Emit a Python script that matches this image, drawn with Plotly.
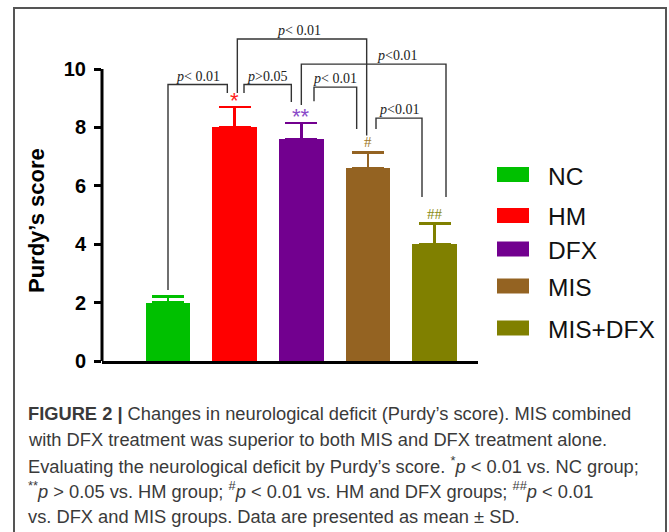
import plotly.graph_objects as go

# ---- data ----
groups = ["NC", "HM", "DFX", "MIS", "MIS+DFX"]
means = [2.0, 8.0, 7.6, 6.6, 4.0]
sds = [0.2, 0.7, 0.55, 0.55, 0.7]
sig_marks = ["", "*", "**", "#", "##"]
bar_colors = ["#00C000", "#FF0000", "#72008F", "#946322", "#808000"]
mark_colors = ["#00C000", "#FF2020", "#8A4AC8", "#A07828", "#8A8A10"]
y_ticks = [0, 2, 4, 6, 8, 10]

# comparison brackets: (x_left, x_right, y_top, y_left_end, y_right_end, label, label_x, label_y)
brackets = [
    (0.0, 0.89, 9.47, 2.43, 9.18, "<i>p</i>< 0.01", 0.45, 9.74),
    (1.14, 1.85, 9.47, 9.18, 8.87, "<i>p</i>>0.05", 1.49, 9.74),
    (1.04, 2.98, 11.03, 9.18, 7.72, "<i>p</i>< 0.01", 1.97, 11.33),
    (2.19, 2.83, 9.38, 8.90, 7.95, "<i>p</i>< 0.01", 2.50, 9.66),
    (2.00, 4.17, 10.17, 8.77, 5.62, "<i>p</i><0.01", 3.44, 10.46),
    (3.12, 3.81, 8.32, 7.95, 5.62, "<i>p</i><0.01", 3.47, 8.62),
]

caption_lines = [
    "<b>FIGURE 2 |</b> Changes in neurological deficit (Purdy\u2019s score). MIS combined",
    "with DFX treatment was superior to both MIS and DFX treatment alone.",
    "Evaluating the neurological deficit by Purdy\u2019s score. <sup>*</sup><i>p</i> < 0.01 vs. NC group;",
    "<sup>**</sup><i>p</i> > 0.05 vs. HM group; <sup>#</sup><i>p</i> < 0.01 vs. HM and DFX groups; <sup>##</sup><i>p</i> < 0.01",
    "vs. DFX and MIS groups. Data are presented as mean \u00b1 SD.",
]

# ---- layout geometry (pixels) ----
W, H = 669, 532
L, R, T, B = 102, 191, 20, 171
PW, PH = W - L - R, H - T - B


def px_x(p):
    return (p - L) / PW


def px_y(p):
    return (H - B - p) / PH


fig = go.Figure()

for i, g in enumerate(groups):
    fig.add_trace(go.Bar(
        x=[i], y=[means[i]], name=g, width=0.667,
        marker=dict(color=bar_colors[i], line=dict(width=0)),
        error_y=dict(type="data", array=[sds[i]], arrayminus=[0], symmetric=False,
                     color=bar_colors[i], thickness=2.6, width=16),
        showlegend=False, hoverinfo="skip",
    ))

shapes = []
annotations = []

# y axis line only up to 10
shapes.append(dict(type="line", xref="paper", yref="y", x0=0, x1=0, y0=0, y1=max(y_ticks),
                   line=dict(color="black", width=3)))

for (xl, xr, yt, yl, yr, lab, lx, ly) in brackets:
    shapes.append(dict(type="path", xref="x", yref="y",
                       path=f"M {xl},{yl} L {xl},{yt} L {xr},{yt} L {xr},{yr}",
                       line=dict(color="#333333", width=1.4)))
    annotations.append(dict(x=lx, y=ly, xref="x", yref="y", text=lab, showarrow=False,
                            font=dict(family="Liberation Serif, Times New Roman, serif", size=14,
                                      color="#222222")))

for i, m in enumerate(sig_marks):
    if not m:
        continue
    serif = m.startswith("#")
    annotations.append(dict(
        x=i, y=means[i] + sds[i], xref="x", yref="y", text=m, showarrow=False,
        yanchor="bottom", yshift=(0 if serif else -8),
        font=dict(family=("Liberation Serif, serif" if serif else "Arial, Liberation Sans, sans-serif"),
                  size=(15 if serif else 22), color=mark_colors[i])))

# manual legend
leg_y = [174.5, 215.5, 249, 286, 328]
for i, g in enumerate(groups):
    cy = leg_y[i]
    shapes.append(dict(type="rect", xref="paper", yref="paper",
                       x0=px_x(497), x1=px_x(529), y0=px_y(cy + 7.5), y1=px_y(cy - 7.5),
                       fillcolor=bar_colors[i], line=dict(width=0)))
    annotations.append(dict(x=px_x(546), y=px_y(cy + 1.5), xref="paper", yref="paper", text=g,
                            showarrow=False, xanchor="left", yanchor="middle",
                            font=dict(family="Arial, Liberation Sans, sans-serif", size=24.5,
                                      color="#111111")))

# y axis title
annotations.append(dict(x=px_x(37), y=px_y(221), xref="paper", yref="paper",
                        text="<b>Purdy\u2019s score</b>", textangle=-90, showarrow=False,
                        xanchor="center", yanchor="middle",
                        font=dict(family="Arial, Liberation Sans, sans-serif", size=22, color="black")))

# outer frame
shapes.append(dict(type="rect", xref="paper", yref="paper",
                   x0=px_x(14), x1=px_x(666), y0=px_y(560), y1=px_y(8),
                   line=dict(color="#555555", width=2), fillcolor="rgba(0,0,0,0)"))

# caption
cap_y = [413, 439, 464.5, 490, 516]
for txt, cy in zip(caption_lines, cap_y):
    annotations.append(dict(x=px_x(26), y=px_y(cy), xref="paper", yref="paper", text=txt,
                            showarrow=False, xanchor="left", yanchor="middle", align="left",
                            font=dict(family="Arial, Liberation Sans, sans-serif", size=18.3,
                                      color="#3a3a3a")))

fig.update_layout(
    width=W, height=H, autosize=False,
    margin=dict(l=L, r=R, t=T, b=B, pad=0),
    paper_bgcolor="white", plot_bgcolor="white",
    barmode="overlay", bargap=0, hovermode=False,
    shapes=shapes, annotations=annotations,
    xaxis=dict(range=[-0.99, 4.65], showticklabels=False, ticks="", showgrid=False,
               zeroline=False, showline=True, linecolor="black", linewidth=3, fixedrange=True),
    yaxis=dict(range=[0, 11.68], tickvals=y_ticks, ticks="outside", ticklen=7, tickwidth=2.5,
               tickcolor="black", showgrid=False, zeroline=False, showline=False,
               tickfont=dict(family="Arial, Liberation Sans, sans-serif", size=20, color="black",
                             weight="bold"),
               ticklabelstandoff=4, fixedrange=True),
)

fig.write_html("out.html", config={"displayModeBar": False},
               post_script="document.body.style.margin='0';")
